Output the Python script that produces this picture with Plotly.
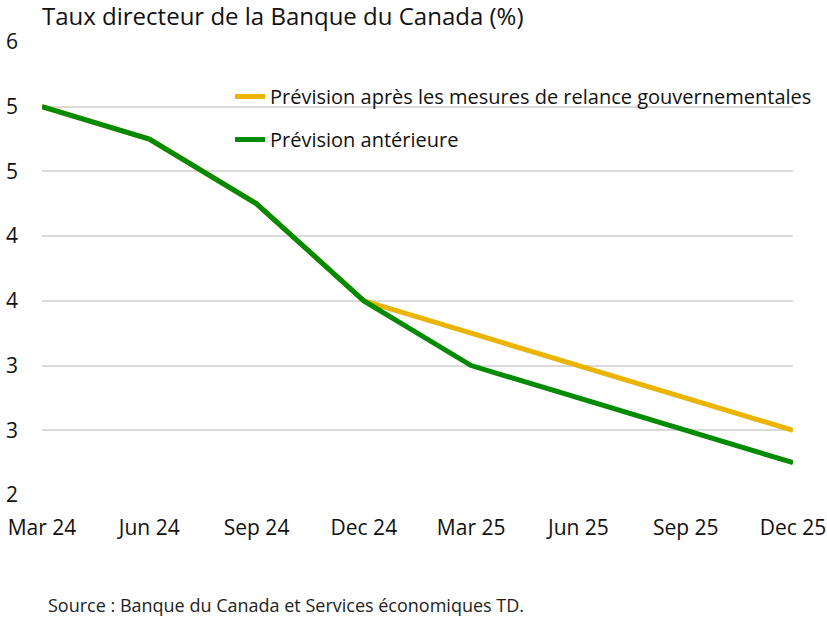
import plotly.graph_objects as go

quarters = ["Mar 24", "Jun 24", "Sep 24", "Dec 24", "Mar 25", "Jun 25", "Sep 25", "Dec 25"]
after_stimulus = [5.0, 4.75, 4.25, 3.5, 3.25, 3.0, 2.75, 2.5]
previous = [5.0, 4.75, 4.25, 3.5, 3.0, 2.75, 2.5, 2.25]
series_names = ["Prévision après les mesures de relance gouvernementales", "Prévision antérieure"]
title_text = "Taux directeur de la Banque du Canada (%)"
source_text = "Source : Banque du Canada et Services économiques TD."

FONT = "Open Sans"
YELLOW = "#EAB400"
GREEN = "#028A00"

fig = go.Figure()
fig.add_trace(go.Scatter(x=quarters, y=after_stimulus, mode="lines", name=series_names[0],
                         line=dict(color=YELLOW, width=5), legendgroup="a"))
fig.add_trace(go.Scatter(x=quarters, y=previous, mode="lines", name=series_names[1],
                         line=dict(color=GREEN, width=5), legendgroup="b"))

fig.update_layout(
    width=827, height=617,
    margin=dict(l=42, r=34, t=42, b=122, autoexpand=False),
    paper_bgcolor="white", plot_bgcolor="white",
    font=dict(family=FONT, size=20, color="#111111"),
    showlegend=True,
    legend=dict(x=(230 - 42) / 751, y=1 - (96 - 42 - 19) / 453, xanchor="left", yanchor="top",
                bgcolor="rgba(0,0,0,0)", font=dict(size=20), tracegroupgap=14,
                itemwidth=30),
    xaxis=dict(type="category", range=[0, 7], showgrid=False, showline=False, zeroline=False,
               ticks="", ticklabelstandoff=18, tickfont=dict(size=21)),
    yaxis=dict(range=[2, 5.5], dtick=0.5, tick0=2, tickformat="d", showgrid=True,
               gridcolor="#DADADA", gridwidth=2, zeroline=False, showline=False,
               ticks="", ticklabelstandoff=23, tickfont=dict(size=21)),
    annotations=[
        dict(text=title_text, xref="paper", yref="paper", x=0, y=1, xanchor="left",
             yanchor="bottom", yshift=8, xshift=-2, showarrow=False,
             font=dict(size=24, color="#111111")),
        dict(text=source_text, xref="paper", yref="paper", x=(46 - 42) / 751, y=0,
             xanchor="left", yanchor="middle", yshift=-110, showarrow=False,
             font=dict(size=18, color="#222222")),
    ],
)

fig.write_html("out.html")
